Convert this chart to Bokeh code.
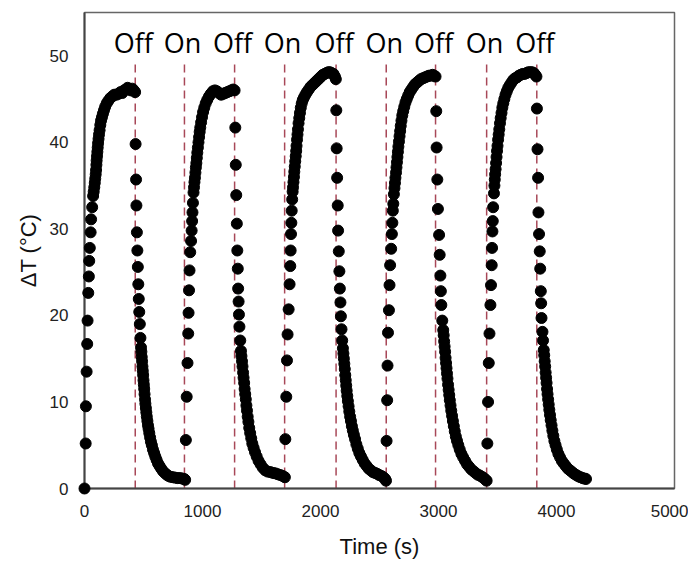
from bokeh.plotting import figure
from bokeh.models import Range1d, FixedTicker
from bokeh.embed import file_html
from bokeh.resources import INLINE
from bokeh.core.properties import value

# (time s, dT degC), per cycle
heat1 = [(0, 0), (10, 5.2), (12, 9.5), (18, 13.5), (23, 16.7), (26, 19.4), (32, 22.6), (37, 24.5),
         (40, 26.3), (45, 27.8), (52, 29.6), (56, 31.1), (65, 32.5), (73, 33.8),
         (78, 34.3), (83, 34.8), (87, 35.3), (91, 35.8), (95, 36.3), (98, 36.8), (101, 37.4), (103, 37.9),
         (106, 38.4), (109, 38.9), (112, 39.4), (115, 39.9), (119, 40.4), (123, 40.9), (128, 41.4),
         (134, 42.0), (140, 42.5), (148, 42.9), (156, 43.3), (165, 43.7), (175, 44.1), (188, 44.5),
         (202, 44.8), (218, 45.1), (235, 45.3), (252, 45.5), (270, 45.5), (287, 45.6), (305, 45.8),
         (320, 45.7), (335, 46.0), (350, 46.1), (365, 46.3), (378, 46.2), (392, 46.0), (405, 46.2),
         (418, 46.0), (429, 45.8)]
cool1 = [(433, 39.8), (437, 35.7), (440, 32.7), (444, 29.6), (448, 27.5), (452, 25.6), (456, 23.6),
         (460, 21.9), (464, 20.4), (469, 19.0), (474, 17.4),
         (479, 16.3), (482, 15.8), (485, 15.2), (488, 14.7), (491, 14.1), (494, 13.6), (497, 13.1),
         (500, 12.5), (503, 12.0), (506, 11.5), (509, 10.9), (513, 10.3), (516, 9.8), (520, 9.3),
         (524, 8.8), (528, 8.3), (533, 7.8), (538, 7.3), (543, 6.9), (549, 6.4), (556, 5.9), (563, 5.4),
         (571, 5.0), (580, 4.5), (590, 4.1), (600, 3.7), (611, 3.3), (623, 2.9), (636, 2.6), (650, 2.3),
         (665, 2.0), (680, 1.8), (696, 1.6), (712, 1.45), (730, 1.35), (750, 1.3), (770, 1.25),
         (790, 1.2), (810, 1.2), (830, 1.15), (845, 1.1), (853, 1.0)]
heat2 = [(859, 5.6), (866, 10.6), (873, 14.5), (879, 17.9), (882, 20.3), (886, 22.9), (890, 25.2),
         (896, 27.3), (903, 28.6), (908, 29.8), (912, 30.9), (915, 31.9), (919, 33.0), (924, 34.2),
         (928, 34.8), (932, 35.4), (936, 35.9), (940, 36.5), (944, 37.1), (948, 37.6), (952, 38.2),
         (956, 38.8), (961, 39.4), (966, 40.0), (971, 40.6), (976, 41.2), (981, 41.7), (988, 42.3),
         (996, 42.9), (1005, 43.5), (1015, 44.0), (1027, 44.5), (1040, 44.9), (1055, 45.3), (1070, 45.6),
         (1088, 45.9), (1105, 46.0), (1122, 45.9), (1140, 45.7), (1158, 45.5), (1175, 45.6), (1192, 45.7),
         (1210, 45.8), (1228, 45.9), (1245, 46.0), (1260, 46.1), (1272, 46.0)]
cool2 = [(1278, 41.7), (1282, 37.4), (1286, 33.9), (1291, 30.6), (1295, 27.5), (1299, 25.4), (1302, 23.1),
         (1306, 21.6), (1309, 20.1), (1313, 18.7), (1320, 17.1),
         (1326, 15.9), (1330, 15.3), (1335, 14.7), (1339, 14.1), (1344, 13.4), (1348, 12.8), (1353, 12.2),
         (1357, 11.5), (1362, 10.9), (1367, 10.3), (1372, 9.6), (1377, 9.0), (1383, 8.3), (1389, 7.7),
         (1396, 7.0), (1404, 6.4), (1413, 5.8), (1422, 5.2), (1433, 4.7), (1445, 4.2), (1459, 3.7),
         (1475, 3.2), (1492, 2.8), (1511, 2.4), (1532, 2.1), (1553, 1.95), (1575, 1.9), (1597, 1.8),
         (1617, 1.75), (1638, 1.65), (1660, 1.55), (1680, 1.45), (1698, 1.3)]
heat3 = [(1702, 5.7), (1710, 10.6), (1716, 14.8), (1721, 17.8), (1730, 20.7), (1738, 23.6), (1744, 25.7),
         (1747, 27.5), (1750, 29.4), (1753, 30.7), (1756, 32.1), (1760, 33.4),
         (1764, 34.3), (1767, 34.8), (1771, 35.4), (1775, 36.0), (1778, 36.6), (1782, 37.2), (1786, 37.8),
         (1790, 38.4), (1794, 39.0), (1797, 39.6), (1801, 40.3), (1805, 40.9), (1809, 41.5), (1814, 42.2),
         (1820, 42.8), (1826, 43.4), (1833, 44.0), (1841, 44.5), (1850, 44.9), (1860, 45.2), (1872, 45.5),
         (1885, 45.8), (1900, 46.1), (1915, 46.4), (1930, 46.6), (1945, 46.8), (1960, 47.0), (1975, 47.2),
         (1990, 47.4), (2005, 47.6), (2020, 47.8), (2035, 47.9), (2050, 48.0), (2065, 48.1), (2080, 48.1),
         (2095, 48.0), (2110, 47.9), (2122, 47.6), (2130, 47.3)]
cool3 = [(2134, 43.7), (2137, 39.3), (2141, 35.9), (2146, 32.7), (2149, 29.8), (2155, 27.4), (2160, 25.1),
         (2164, 23.1), (2169, 21.5), (2173, 19.9), (2178, 18.4), (2184, 17.1),
         (2190, 16.2), (2194, 15.6), (2198, 15.0), (2202, 14.4), (2206, 13.8), (2210, 13.1), (2214, 12.5),
         (2218, 11.9), (2222, 11.3), (2227, 10.7), (2232, 10.1), (2238, 9.5), (2244, 8.9), (2251, 8.3),
         (2258, 7.8), (2266, 7.2), (2274, 6.7), (2283, 6.2), (2293, 5.7), (2304, 5.1), (2316, 4.6),
         (2329, 4.1), (2343, 3.7), (2358, 3.3), (2374, 2.9), (2391, 2.6), (2408, 2.3), (2426, 2.1),
         (2444, 1.9), (2462, 1.8), (2480, 1.7), (2498, 1.55), (2516, 1.45), (2533, 1.3), (2548, 1.1),
         (2555, 0.9)]
heat4 = [(2560, 5.5), (2565, 10.2), (2568, 14.2), (2572, 18.0), (2580, 20.6), (2585, 23.5), (2590, 25.8),
         (2599, 27.7), (2605, 29.4), (2609, 30.7), (2613, 32.1), (2617, 32.9),
         (2622, 34.0), (2627, 34.7), (2631, 35.3), (2635, 35.9), (2640, 36.5), (2644, 37.1), (2648, 37.7),
         (2652, 38.3), (2656, 38.9), (2660, 39.5), (2665, 40.1), (2670, 40.7), (2675, 41.3), (2680, 41.9),
         (2686, 42.5), (2693, 43.1), (2701, 43.6), (2710, 44.1), (2720, 44.6), (2731, 45.0), (2743, 45.4),
         (2756, 45.8), (2770, 46.1), (2785, 46.4), (2800, 46.7), (2817, 46.9), (2834, 47.1), (2851, 47.3),
         (2868, 47.4), (2885, 47.5), (2902, 47.6), (2919, 47.7), (2935, 47.7), (2950, 47.8), (2963, 47.7),
         (2975, 47.6)]
cool4 = [(2981, 43.6), (2984, 39.4), (2990, 35.7), (2995, 32.3), (3005, 29.3), (3010, 27.0), (3016, 24.6),
         (3020, 22.8), (3024, 21.2), (3032, 19.4),
         (3040, 18.3), (3044, 17.7), (3048, 17.0), (3052, 16.4), (3056, 15.8), (3060, 15.1), (3064, 14.5),
         (3068, 13.9), (3072, 13.3), (3076, 12.7), (3081, 12.0), (3086, 11.4), (3091, 10.8), (3096, 10.2),
         (3102, 9.6), (3108, 9.0), (3115, 8.4), (3122, 7.8), (3130, 7.2), (3138, 6.6), (3147, 6.0),
         (3157, 5.5), (3168, 5.0), (3180, 4.5), (3194, 4.0), (3209, 3.6), (3225, 3.2), (3242, 2.8),
         (3260, 2.5), (3278, 2.2), (3296, 2.0), (3314, 1.8), (3332, 1.6), (3350, 1.5), (3368, 1.35),
         (3385, 1.2), (3400, 1.0), (3408, 0.9)]
heat5 = [(3414, 5.2), (3420, 10.0), (3426, 14.5), (3432, 17.9), (3440, 21.2), (3445, 23.5), (3451, 25.8),
         (3454, 27.8), (3457, 29.7), (3460, 30.9), (3463, 32.5), (3470, 34.1),
         (3474, 35.0), (3477, 35.7), (3480, 36.3), (3484, 36.9), (3488, 37.6), (3492, 38.3), (3496, 39.0),
         (3500, 39.6), (3505, 40.3), (3510, 40.9), (3515, 41.5), (3521, 42.2), (3527, 42.8), (3534, 43.4),
         (3541, 44.0), (3549, 44.5), (3558, 45.0), (3568, 45.5), (3579, 45.9), (3591, 46.3), (3604, 46.6),
         (3618, 46.9), (3633, 47.2), (3649, 47.4), (3665, 47.5), (3681, 47.7), (3697, 47.8), (3713, 47.9),
         (3729, 47.9), (3745, 48.0), (3761, 48.1), (3777, 48.1), (3793, 48.1), (3808, 48.0), (3820, 47.8),
         (3830, 47.6)]
cool5 = [(3834, 43.9), (3839, 39.2), (3844, 35.9), (3847, 31.9), (3852, 29.4), (3858, 27.4), (3862, 25.4),
         (3867, 22.8), (3870, 21.4), (3873, 19.7), (3881, 18.1), (3886, 17.1),
         (3892, 16.0), (3896, 15.4), (3900, 14.7), (3904, 14.1), (3908, 13.4), (3912, 12.8), (3916, 12.2),
         (3920, 11.5), (3924, 10.9), (3929, 10.3), (3934, 9.7), (3939, 9.1), (3945, 8.5), (3951, 7.9),
         (3958, 7.3), (3965, 6.7), (3973, 6.1), (3982, 5.5), (3992, 5.0), (4003, 4.5), (4016, 4.0),
         (4030, 3.6), (4045, 3.2), (4061, 2.9), (4078, 2.6), (4096, 2.3), (4114, 2.1), (4132, 1.9),
         (4150, 1.7), (4168, 1.55), (4186, 1.4), (4204, 1.3), (4222, 1.2), (4238, 1.15), (4250, 1.1)]

switch_t = [430, 847, 1272, 1696, 2132, 2557, 2975, 3408, 3833]
switch_labels = ["Off", "On", "Off", "On", "Off", "On", "Off", "On", "Off"]

x_ticks = [0, 1000, 2000, 3000, 4000, 5000]
y_ticks = [0, 10, 20, 30, 40, 50]

pts = heat1 + cool1 + heat2 + cool2 + heat3 + cool3 + heat4 + cool4 + heat5 + cool5
t = [a for a, b in pts]
dT = [b for a, b in pts]

p = figure(width=688, height=562, output_backend="svg", toolbar_location=None,
           x_range=Range1d(0, 5000), y_range=Range1d(0, 55),
           min_border_left=84, min_border_right=14, min_border_top=12, min_border_bottom=74)

p.segment(x0=switch_t, y0=0, x1=switch_t, y1=49.5, line_color="#a84858",
          line_width=1.5, line_dash="8 5")
p.scatter(t, dT, size=11, fill_color="black", line_color="black", level="overlay")
p.text(x=switch_t, y=51.5, text=switch_labels, text_font=value("Open Sans"),
       text_font_size="27px", text_align="center", text_baseline="alphabetic",
       text_color="black", x_offset=-2)

p.grid.visible = False
p.outline_line_color = "#666666"
p.outline_line_width = 1.5

p.xaxis.ticker = FixedTicker(ticks=x_ticks)
p.yaxis.ticker = FixedTicker(ticks=y_ticks)
p.xaxis.axis_label = "Time (s)"
p.yaxis.axis_label = "ΔT (°C)"
for ax in (p.xaxis, p.yaxis):
    ax.axis_line_color = "#444444"
    ax.axis_line_width = 2
    ax.major_tick_line_color = None
    ax.minor_tick_line_color = None
    ax.major_tick_out = 0
    ax.major_tick_in = 0
    ax.minor_tick_out = 0
    ax.minor_tick_in = 0
    ax.major_label_text_font = "Liberation Sans"
    ax.major_label_text_font_size = "17px"
    ax.major_label_text_color = "#222222"
    ax.axis_label_text_font = "Liberation Sans"
    ax.axis_label_text_font_size = "22px"
    ax.axis_label_text_font_style = "normal"
    ax.axis_label_text_color = "#111111"
p.yaxis.major_label_standoff = 16
p.xaxis.major_label_standoff = 16
p.yaxis.axis_label_standoff = 6
p.xaxis.axis_label_standoff = 14

open("out.html", "w").write(file_html(p, INLINE))
